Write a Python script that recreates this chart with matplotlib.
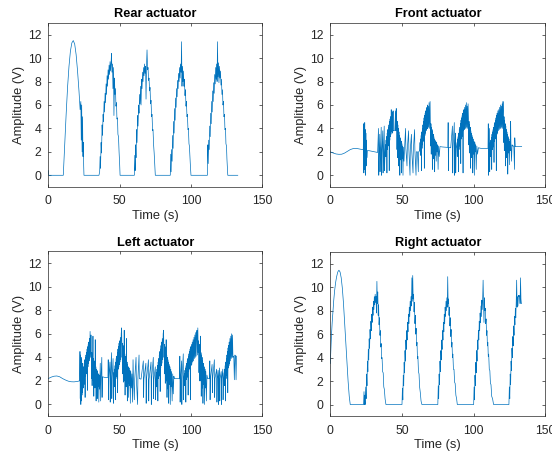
import numpy as np
import matplotlib
matplotlib.use("Agg")
import matplotlib.pyplot as plt

plt.rcParams['font.family'] = ['Liberation Sans', 'DejaVu Sans']

# actuator drive signals, (time s, amplitude V)
rear_samples = [
    (0, 0.4), (0.3, 0), (10.5, 0),
    (11.5, 2.6), (12.5, 5.2), (13.5, 7.5), (14.5, 9.3), (15.5, 10.6), (16.5, 11.3), (17.5, 11.5),
    (18.5, 11.2), (19.5, 10.3), (20.5, 8.9), (21.5, 7.2), (22.3, 5.6), (22.8, 6.3), (23.1, 3.0),
    (23.4, 6.0), (23.7, 2.0), (24.0, 5.0), (24.3, 1.6), (24.6, 2.8), (24.8, 0.8), (25.0, 0),
    (35.5, 0), (36.0, 0.3), (36.3, 1.6), (36.6, 0.6), (37.0, 2.8), (37.3, 1.9), (37.7, 4.3),
    (38.0, 3.4), (38.4, 5.2), (38.7, 4.6), (39.1, 6.3), (39.4, 5.4), (39.8, 7.0), (40.1, 6.2),
    (40.5, 7.8), (40.8, 6.9), (41.2, 8.5), (41.5, 7.6), (41.9, 9.0), (42.2, 8.2), (42.6, 9.4),
    (42.9, 8.6), (43.3, 9.7), (43.6, 8.9), (44.0, 9.6), (44.3, 10.4), (44.6, 8.8), (45.0, 9.5),
    (45.3, 7.4), (45.7, 9.2), (46.0, 5.1), (46.4, 8.3), (46.7, 6.9), (47.1, 7.4), (47.4, 5.9),
    (47.8, 6.2), (48.1, 4.8), (48.5, 4.9), (48.8, 3.5), (49.2, 3.3), (49.6, 2.0), (50.0, 1.0),
    (50.3, 0),
    (60.3, 0), (60.6, 1.7), (60.9, 0.4), (61.2, 2.6), (61.5, 1.5), (61.9, 3.9), (62.2, 2.8),
    (62.6, 5.1), (62.9, 4.2), (63.3, 6.0), (63.6, 5.3), (64.0, 6.9), (64.3, 6.1), (64.7, 7.6),
    (65.0, 6.0), (65.4, 8.2), (65.7, 7.4), (66.1, 8.8), (66.4, 8.0), (66.8, 9.2), (67.1, 8.5),
    (67.5, 9.5), (67.8, 8.7), (68.2, 9.3), (68.5, 6.5), (68.9, 9.6), (69.2, 10.7), (69.6, 9.0),
    (69.9, 9.2), (70.3, 8.1), (70.6, 8.3), (71.0, 7.2), (71.3, 7.5), (71.7, 6.1), (72.0, 6.4),
    (72.4, 5.0), (72.7, 5.2), (73.1, 3.8), (73.4, 3.9), (73.8, 2.6), (74.2, 1.9), (74.6, 0.9),
    (75.0, 0),
    (85.5, 0), (85.8, 1.8), (86.1, 0.3), (86.4, 2.2), (86.8, 1.2), (87.1, 3.4), (87.5, 2.3),
    (87.8, 4.6), (88.2, 3.6), (88.5, 5.7), (88.9, 4.7), (89.2, 6.6), (89.6, 5.8), (89.9, 7.4),
    (90.3, 6.7), (90.6, 8.1), (91.0, 7.4), (91.3, 8.7), (91.7, 8.0), (92.0, 9.2), (92.4, 8.3),
    (92.7, 9.5), (93.1, 8.8), (93.4, 11.4), (93.7, 7.6), (94.0, 9.3), (94.4, 8.0), (94.7, 8.9),
    (95.1, 7.6), (95.4, 8.2), (95.8, 6.8), (96.1, 7.3), (96.5, 5.9), (96.8, 6.3), (97.2, 5.0),
    (97.5, 5.2), (97.9, 3.9), (98.2, 4.0), (98.6, 2.7), (98.9, 2.5), (99.3, 1.5), (99.6, 0.8),
    (100.0, 0),
    (111.5, 0), (111.8, 2.6), (112.1, 1.0), (112.4, 3.0), (112.8, 2.2), (113.1, 4.2), (113.5, 3.3),
    (113.8, 5.3), (114.2, 4.4), (114.5, 6.3), (114.9, 5.4), (115.2, 7.2), (115.6, 6.3), (115.9, 7.9),
    (116.3, 7.0), (116.6, 8.6), (117.0, 7.8), (117.3, 9.2), (117.7, 8.2), (118.0, 9.5), (118.3, 8.0),
    (118.6, 11.4), (118.9, 8.4), (119.3, 9.6), (119.6, 7.9), (120.0, 9.3), (120.3, 8.3), (120.7, 8.9),
    (121.0, 7.7), (121.4, 8.2), (121.7, 6.9), (122.1, 7.3), (122.4, 6.0), (122.8, 6.3), (123.1, 5.0),
    (123.5, 5.2), (123.8, 3.9), (124.2, 4.0), (124.5, 2.7), (124.9, 2.5), (125.2, 1.4), (125.5, 0.7),
    (125.8, 0), (132.8, 0),
]

front_samples = [
    (0, 2.0), (2, 1.9), (4, 1.82), (6, 1.79), (8, 1.8), (10, 1.9), (12, 2.05), (14, 2.2),
    (16, 2.28), (18, 2.3), (20, 2.25), (22, 2.2), (23.0, 2.18),
    (23.2, 4.4), (23.4, 0.2), (23.6, 4.2), (23.8, 0.5), (24.0, 4.5), (24.2, 1.0), (24.4, 3.9),
    (24.6, 0), (24.8, 3.6), (25.0, 0.8), (25.2, 3.0), (25.5, 1.5), (25.8, 2.1),
    (27, 2.1), (29, 2.05), (31, 2.0), (33, 1.95),
    (33.6, 4.0), (33.8, 0), (34.1, 1.9), (34.5, 3.5), (34.7, 0.3), (35.0, 1.9), (35.5, 4.1),
    (35.7, 0), (36.0, 1.9), (36.6, 3.8), (36.8, 0.2), (37.1, 1.9), (37.6, 4.2), (37.8, 0.4),
    (38.2, 2.0),
    (38.5, 2.6), (38.7, 1.6), (38.9, 3.0), (39.1, 1.8), (39.3, 3.3), (39.5, 0.2), (39.7, 3.6),
    (39.9, 2.2), (40.1, 3.9), (40.3, 2.5), (40.5, 4.1), (40.7, 2.8), (40.9, 4.3), (41.1, 0.4),
    (41.3, 4.6), (41.5, 3.0), (41.7, 4.8), (41.9, 3.3), (42.1, 5.0), (42.3, 3.5), (42.5, 5.6),
    (42.7, 3.7), (42.9, 5.2), (43.1, 3.8), (43.3, 5.4), (43.5, 3.6), (43.8, 5.5), (44.0, 3.8),
    (44.3, 3.8), (45.0, 3.85), (45.5, 5.5), (45.7, 3.8), (46.0, 5.7),
    (46.3, 4.8), (46.5, 2.2), (46.7, 4.6), (46.9, 1.5), (47.1, 4.3), (47.3, 2.0), (47.5, 4.0),
    (47.7, 0.8), (47.9, 3.7), (48.1, 1.8), (48.3, 3.4), (48.5, 0), (48.7, 3.2), (48.9, 1.6),
    (49.1, 3.0), (49.3, 1.3), (49.5, 2.9), (49.7, 0.2), (49.9, 2.7), (50.1, 1.4), (50.4, 2.5),
    (50.7, 0), (51.0, 2.4), (51.4, 1.2), (51.8, 2.3),
    (52.5, 4.0), (52.7, 2.3), (53.5, 0.8), (53.7, 2.2), (54.6, 3.8), (54.8, 2.2), (55.6, 0),
    (55.8, 2.2), (56.6, 3.5), (56.8, 2.1), (57.7, 0.2), (57.9, 2.1), (58.8, 3.9), (59.0, 2.1),
    (59.8, 0), (60.0, 2.0), (60.8, 2.0), (61.4, 0.3), (61.6, 2.0), (62.3, 2.1),
    (62.6, 2.8), (62.8, 1.7), (63.0, 3.1), (63.2, 1.9), (63.4, 3.4), (63.6, 0.4), (63.8, 3.7),
    (64.0, 2.3), (64.2, 4.0), (64.4, 2.6), (64.6, 4.3), (64.8, 2.9), (65.0, 4.6), (65.2, 3.1),
    (65.4, 4.9), (65.6, 0.6), (65.8, 5.1), (66.0, 3.4), (66.2, 5.3), (66.4, 3.6), (66.6, 5.5),
    (66.8, 3.8), (67.0, 5.7), (67.2, 3.9), (67.4, 5.8), (67.6, 4.0), (67.8, 6.0), (68.0, 4.0),
    (68.3, 5.9), (68.6, 4.1), (68.9, 6.2), (69.2, 4.0), (69.6, 6.3),
    (69.8, 4.6), (70.0, 2.5), (70.2, 4.4), (70.4, 1.8), (70.6, 4.1), (70.8, 2.4), (71.0, 3.9),
    (71.2, 0.5), (71.4, 3.7), (71.6, 2.1), (71.8, 3.5), (72.0, 1.4), (72.2, 3.3), (72.4, 2.0),
    (72.6, 3.1), (72.8, 0.3), (73.0, 3.0), (73.3, 1.7), (73.6, 2.9), (73.9, 1.2), (74.2, 2.8),
    (74.5, 2.0), (74.8, 2.6), (75.2, 0.5), (75.5, 2.5), (76.0, 1.6), (76.5, 2.45),
    (78, 2.42), (80, 2.4), (82.0, 2.38), (82.2, 4.5), (82.4, 0.4), (82.6, 2.37), (84.0, 2.35),
    (85.2, 4.2), (85.4, 0.2), (85.6, 2.33), (86.5, 4.5), (86.7, 0), (86.9, 2.3), (87.3, 3.6),
    (87.5, 0.2), (87.8, 2.3),
    (88.4, 2.8), (88.6, 1.6), (88.8, 3.1), (89.0, 1.9), (89.2, 3.3), (89.4, 0.3), (89.6, 3.6),
    (89.8, 2.2), (90.0, 3.9), (90.2, 2.5), (90.4, 4.1), (90.6, 2.8), (90.8, 4.4), (91.0, 1.0),
    (91.2, 4.7), (91.4, 3.1), (91.6, 4.9), (91.8, 3.3), (92.0, 5.1), (92.2, 3.5), (92.4, 5.3),
    (92.6, 0.2), (92.8, 5.5), (93.0, 3.8), (93.2, 5.6), (93.4, 3.9), (93.7, 5.8), (94.0, 4.0),
    (94.3, 6.0), (94.6, 4.0), (94.9, 6.2), (95.2, 4.1), (95.5, 5.9), (95.8, 4.0), (96.1, 6.1),
    (96.4, 4.8), (96.6, 2.6), (96.8, 4.6), (97.0, 1.9), (97.2, 4.3), (97.4, 2.5), (97.6, 4.1),
    (97.8, 0.6), (98.0, 3.8), (98.2, 2.2), (98.4, 3.6), (98.6, 1.5), (98.8, 3.4), (99.0, 2.1),
    (99.2, 3.2), (99.4, 0.2), (99.6, 3.1), (99.9, 1.8), (100.2, 2.9), (100.5, 0), (100.8, 2.8),
    (101.1, 2.0), (101.4, 2.6), (101.8, 0.5), (102.2, 2.5), (102.7, 1.8), (103.3, 2.35),
    (105, 2.3), (107, 2.3), (109, 2.3), (110.0, 2.3), (110.2, 4.4), (110.4, 0), (110.6, 2.3),
    (111.0, 4.0), (111.2, 0.3), (111.4, 2.3),
    (111.6, 2.8), (111.8, 1.6), (112.0, 3.0), (112.2, 1.9), (112.4, 3.2), (112.6, 0.5), (112.8, 3.5),
    (113.0, 2.2), (113.2, 3.7), (113.4, 2.4), (113.6, 3.9), (113.8, 2.6), (114.0, 4.1), (114.2, 1.1),
    (114.4, 4.3), (114.6, 2.9), (114.8, 4.5), (115.0, 3.1), (115.2, 4.7), (115.4, 3.3), (115.6, 4.9),
    (115.8, 0.4), (116.0, 5.1), (116.2, 3.5), (116.4, 5.3), (116.6, 3.6), (116.9, 5.5), (117.2, 3.8),
    (117.5, 5.6), (117.8, 3.9), (118.1, 5.8), (118.4, 4.0), (118.7, 6.0), (119.0, 4.0), (119.3, 5.9),
    (119.6, 4.1), (119.9, 6.1), (120.2, 4.0), (120.5, 6.3),
    (120.8, 5.2), (121.0, 2.8), (121.2, 5.0), (121.4, 2.1), (121.6, 4.7), (121.8, 2.6), (122.0, 4.4),
    (122.2, 0.8), (122.4, 4.2), (122.6, 2.3), (122.8, 3.9), (123.0, 1.5), (123.2, 3.7), (123.4, 2.2),
    (123.6, 3.5), (123.8, 0.1), (124.0, 3.3), (124.3, 1.9), (124.6, 3.1), (124.9, 0.9), (125.2, 2.9),
    (125.5, 2.1), (125.8, 4.6), (126.0, 2.8), (126.4, 1.2), (126.8, 2.6), (127.2, 2.5), (128.0, 2.5),
    (128.5, 0.5), (128.7, 3.2), (129.0, 2.45), (131, 2.45), (133.5, 2.45),
]

left_samples = [
    (0, 2.2), (2, 2.32), (4, 2.4), (6, 2.42), (8, 2.35), (10, 2.2), (12, 2.08), (14, 1.98),
    (16, 1.93), (18, 1.92), (20, 1.95), (21.9, 2.0),
    (22.2, 4.5), (22.4, 0.5), (22.6, 4.2), (22.8, 0), (23.0, 4.0), (23.2, 0.3), (23.4, 3.8),
    (23.6, 0.8), (23.8, 3.5), (24.0, 1.0), (24.2, 3.0),
    (24.4, 2.8), (24.6, 1.4), (24.8, 3.2), (25.0, 1.7), (25.2, 3.5), (25.4, 2.0), (25.6, 3.8),
    (25.8, 0.6), (26.0, 4.0), (26.2, 2.4), (26.4, 4.2), (26.6, 2.6), (26.8, 4.4), (27.0, 2.9),
    (27.2, 4.7), (27.4, 1.2), (27.6, 4.9), (27.8, 3.2), (28.0, 5.1), (28.2, 3.5), (28.4, 5.3),
    (28.6, 3.7), (28.8, 5.6), (29.0, 3.9), (29.3, 6.2), (29.6, 4.0), (29.9, 5.9),
    (30.1, 4.6), (30.3, 2.2), (30.5, 4.4), (30.7, 1.6), (30.9, 4.2), (31.1, 2.3), (31.3, 5.8),
    (31.5, 2.0), (31.7, 3.9), (31.9, 0.7), (32.1, 3.7), (32.3, 2.2), (32.5, 3.5), (32.7, 1.4),
    (32.9, 5.5), (33.1, 2.0), (33.3, 3.2), (33.5, 0.3), (33.7, 3.0), (33.9, 1.8), (34.1, 2.9),
    (34.3, 0.5), (34.5, 2.8), (34.8, 1.5), (35.1, 2.6), (35.4, 0.2), (35.7, 2.5), (36.0, 1.3),
    (36.4, 3.5), (36.7, 0.3), (37.0, 2.4),
    (37.5, 4.0), (37.7, 0.6), (38.0, 2.35), (39.5, 2.3), (41.8, 2.3), (42.0, 3.8), (42.2, 0.4),
    (42.4, 2.3), (43.2, 3.6), (43.4, 0.2), (43.6, 2.25), (44.3, 4.4), (44.5, 0.5), (44.7, 2.2),
    (45.4, 3.9), (45.6, 0.1), (45.8, 2.2),
    (46.0, 2.7), (46.2, 1.5), (46.4, 3.0), (46.6, 1.8), (46.8, 3.3), (47.0, 0.4), (47.2, 3.6),
    (47.4, 2.2), (47.6, 3.9), (47.8, 2.4), (48.0, 4.1), (48.2, 2.7), (48.4, 4.4), (48.6, 1.0),
    (48.8, 4.7), (49.0, 3.0), (49.2, 4.9), (49.4, 3.2), (49.6, 5.2), (49.8, 3.4), (50.0, 5.4),
    (50.2, 3.6), (50.5, 5.7), (50.8, 3.8), (51.1, 6.0), (51.4, 6.5), (51.7, 4.0),
    (52.0, 5.2), (52.2, 2.6), (52.4, 5.0), (52.6, 1.9), (52.8, 4.7), (53.0, 2.4), (53.2, 6.3),
    (53.4, 2.0), (53.6, 4.3), (53.8, 0.8), (54.0, 4.1), (54.2, 2.2), (54.4, 3.9), (54.6, 1.5),
    (54.8, 5.6), (55.0, 2.0), (55.2, 3.6), (55.4, 0.3), (55.6, 3.4), (55.8, 1.8), (56.0, 3.2),
    (56.3, 0.6), (56.6, 3.1), (56.9, 1.6), (57.2, 2.9), (57.5, 0.1), (57.8, 2.8), (58.2, 1.4),
    (58.6, 2.6), (59.0, 0.2), (59.4, 3.8), (59.7, 2.1), (60.3, 0.4), (60.6, 2.2), (61.5, 4.0),
    (61.7, 2.2), (62.6, 0), (62.8, 2.2), (63.6, 4.2), (63.8, 2.2),
    (65, 2.15), (66.6, 3.7), (66.8, 0.6), (67.0, 2.15), (68.4, 3.5), (68.6, 0.1), (68.8, 2.1),
    (70.2, 3.8), (70.4, 0.3), (70.6, 2.1), (72.0, 3.6), (72.2, 0), (72.4, 2.1), (73.6, 4.0),
    (73.8, 0.5), (74.0, 2.1), (75.0, 3.2), (75.2, 0.4), (75.5, 2.1),
    (75.8, 2.7), (76.0, 1.5), (76.2, 3.0), (76.4, 1.8), (76.6, 3.3), (76.8, 0.3), (77.0, 3.6),
    (77.2, 2.2), (77.4, 3.9), (77.6, 2.4), (77.8, 4.2), (78.0, 2.7), (78.2, 4.5), (78.4, 1.1),
    (78.6, 4.7), (78.8, 3.1), (79.0, 5.0), (79.2, 3.3), (79.4, 5.3), (79.6, 3.5), (79.9, 5.6),
    (80.2, 3.8), (80.5, 6.0), (80.8, 6.3), (81.1, 4.0),
    (81.4, 5.1), (81.6, 2.6), (81.8, 4.9), (82.0, 1.8), (82.2, 4.6), (82.4, 2.4), (82.6, 5.5),
    (82.8, 2.0), (83.0, 4.2), (83.2, 0.6), (83.4, 4.0), (83.6, 2.2), (83.8, 3.8), (84.0, 1.3),
    (84.2, 3.6), (84.4, 0.1), (84.6, 3.4), (84.9, 1.7), (85.2, 3.2), (85.5, 0), (85.8, 3.0),
    (86.1, 1.5), (86.4, 2.8), (86.8, 0.3), (87.2, 2.6), (87.6, 0.9), (88.0, 2.4), (88.4, 2.2),
    (90, 2.2), (92.0, 2.2), (92.2, 4.1), (92.4, 0.2), (92.6, 2.2), (93.4, 3.7), (93.6, 0),
    (93.8, 2.2), (94.6, 4.3), (94.8, 0.4), (95.0, 2.2),
    (95.4, 2.6), (95.6, 1.6), (95.8, 2.9), (96.0, 1.8), (96.2, 3.1), (96.4, 0.2), (96.6, 3.3),
    (96.8, 2.1), (97.0, 3.5), (97.2, 2.3), (97.4, 3.7), (97.6, 2.5), (97.8, 3.9), (98.0, 0.8),
    (98.2, 4.1), (98.4, 2.8), (98.6, 4.3), (98.8, 3.0), (99.0, 4.5), (99.2, 3.1), (99.4, 4.7),
    (99.6, 0.4), (99.8, 4.9), (100.0, 3.3), (100.3, 5.1), (100.6, 3.4), (100.9, 5.3), (101.2, 3.6),
    (101.5, 5.5), (101.8, 3.7), (102.1, 5.7), (102.4, 3.9), (102.7, 5.9), (103.0, 4.0), (103.3, 6.1),
    (103.6, 4.1), (103.9, 6.0), (104.2, 6.3), (104.5, 4.2), (104.8, 6.5), (105.1, 4.4),
    (105.4, 5.4), (105.6, 2.7), (105.8, 5.1), (106.0, 2.0), (106.2, 4.8), (106.4, 2.5), (106.6, 5.8),
    (106.8, 2.0), (107.0, 4.4), (107.2, 0.7), (107.4, 4.2), (107.6, 2.2), (107.8, 4.0), (108.0, 1.4),
    (108.2, 3.7), (108.4, 0.1), (108.6, 3.5), (108.9, 1.7), (109.2, 3.2), (109.5, 0), (109.8, 3.0),
    (110.1, 1.4), (110.4, 2.8), (110.8, 0.3), (111.2, 2.5), (111.7, 2.2),
    (113.0, 2.2), (113.2, 3.7), (113.4, 0.4), (113.6, 2.2), (114.8, 3.4), (115.0, 1.0), (115.2, 2.2),
    (116.4, 3.8), (116.6, 0.6), (116.8, 2.2), (118.0, 3.0), (118.2, 0.2), (118.4, 2.2), (119.0, 2.9),
    (119.2, 0), (119.4, 2.2), (120.0, 3.1), (120.2, 0.3), (120.4, 2.2), (121.2, 2.8), (121.4, 0),
    (121.6, 2.2), (122.3, 3.0), (122.5, 0.4), (122.8, 2.2),
    (123.2, 2.7), (123.4, 1.6), (123.6, 3.0), (123.8, 1.9), (124.0, 3.3), (124.2, 0.3), (124.4, 3.6),
    (124.6, 2.2), (124.8, 3.9), (125.0, 2.5), (125.2, 4.2), (125.4, 2.7), (125.6, 4.5), (125.8, 1.0),
    (126.0, 4.8), (126.2, 3.1), (126.4, 5.0), (126.6, 3.3), (126.8, 5.3), (127.0, 3.5), (127.3, 5.6),
    (127.6, 3.7), (127.9, 5.8), (128.2, 3.9), (128.5, 6.0), (128.8, 4.0), (129.1, 5.9),
    (129.4, 4.0), (130.0, 4.1), (130.4, 2.1), (130.8, 4.2), (131.2, 4.1), (131.6, 2.1), (131.9, 4.1),
]

right_samples = [
    (0, 3.5), (0.4, 4.8), (0.8, 5.9), (1.3, 7.0), (1.8, 7.9), (2.4, 8.9), (3.0, 9.7), (3.7, 10.4),
    (4.4, 10.9), (5.2, 11.3), (6.0, 11.45), (6.8, 11.3), (7.6, 10.8), (8.4, 9.9), (9.2, 8.6),
    (10.0, 7.0), (10.8, 5.3), (11.6, 3.6), (12.4, 2.0), (13.2, 0.7), (13.9, 0),
    (23.2, 0), (23.5, 1.1), (23.7, 0), (24.0, 0.8), (24.2, 0), (24.4, 0),
    (24.7, 1.5), (25.0, 0.5), (25.3, 2.6), (25.6, 1.6), (25.9, 3.7), (26.2, 2.8), (26.5, 4.7),
    (26.8, 3.8), (27.1, 5.6), (27.4, 4.8), (27.7, 6.4), (28.0, 5.6), (28.3, 7.1), (28.6, 6.3),
    (28.9, 7.7), (29.2, 7.0), (29.5, 8.3), (29.8, 7.6), (30.1, 8.8), (30.4, 8.1), (30.7, 9.2),
    (31.0, 8.5), (31.3, 9.4), (31.6, 8.7), (31.9, 9.2), (32.2, 7.8), (32.5, 10.5), (32.8, 8.6),
    (33.1, 9.6), (33.4, 7.6), (33.7, 8.5), (34.0, 6.8), (34.3, 7.4), (34.6, 5.9), (34.9, 6.3),
    (35.2, 4.9), (35.5, 5.2), (35.8, 3.9), (36.1, 4.0), (36.5, 2.8), (36.9, 2.7), (37.3, 1.5),
    (37.7, 1.3), (38.2, 0.5), (38.8, 0),
    (50.0, 0), (50.3, 1.4), (50.6, 0.4), (50.9, 2.5), (51.2, 1.6), (51.5, 3.6), (51.8, 2.7),
    (52.1, 4.6), (52.4, 3.7), (52.7, 5.5), (53.0, 4.7), (53.3, 6.3), (53.6, 5.5), (53.9, 7.0),
    (54.2, 6.2), (54.5, 7.7), (54.8, 6.9), (55.1, 8.3), (55.4, 7.5), (55.7, 8.8), (56.0, 8.0),
    (56.3, 9.2), (56.6, 8.4), (56.9, 10.8), (57.2, 8.8), (57.5, 11.0), (57.8, 9.0), (58.1, 9.4),
    (58.4, 7.9), (58.7, 8.7), (59.0, 6.9), (59.3, 7.6), (59.6, 6.0), (59.9, 6.5), (60.2, 5.0),
    (60.5, 5.3), (60.8, 3.9), (61.1, 4.1), (61.5, 2.8), (61.9, 2.6), (62.3, 1.5), (62.8, 1.0),
    (63.3, 0.3), (63.9, 0),
    (75.0, 0), (75.3, 1.6), (75.6, 0.5), (75.9, 2.6), (76.2, 1.7), (76.5, 3.7), (76.8, 2.8),
    (77.1, 4.6), (77.4, 3.8), (77.7, 5.5), (78.0, 4.7), (78.3, 6.3), (78.6, 5.5), (78.9, 7.0),
    (79.2, 6.2), (79.5, 7.7), (79.8, 6.9), (80.1, 8.3), (80.4, 7.5), (80.7, 8.8), (81.0, 8.0),
    (81.3, 9.1), (81.6, 8.3), (81.9, 10.9), (82.2, 8.6), (82.5, 9.0), (82.8, 7.6), (83.1, 8.3),
    (83.4, 6.7), (83.7, 7.4), (84.0, 5.8), (84.3, 6.4), (84.6, 4.9), (84.9, 5.3), (85.2, 4.0),
    (85.5, 4.3), (85.9, 3.0), (86.3, 3.0), (86.7, 1.9), (87.1, 1.8), (87.6, 0.8), (88.1, 0.5),
    (88.6, 0),
    (100.0, 0), (100.3, 1.5), (100.6, 0.4), (100.9, 2.5), (101.2, 1.6), (101.5, 3.6), (101.8, 2.7),
    (102.1, 4.6), (102.4, 3.7), (102.7, 5.5), (103.0, 4.7), (103.3, 6.3), (103.6, 5.5), (103.9, 7.1),
    (104.2, 6.3), (104.5, 7.8), (104.8, 7.0), (105.1, 8.4), (105.4, 7.5), (105.7, 8.9), (106.0, 8.1),
    (106.3, 9.1), (106.6, 10.6), (106.9, 8.9), (107.2, 7.0), (107.5, 9.1), (107.8, 8.0), (108.1, 8.2),
    (108.4, 6.9), (108.7, 7.3), (109.0, 5.9), (109.3, 6.3), (109.6, 5.0), (109.9, 5.3), (110.2, 4.1),
    (110.5, 4.3), (110.9, 3.0), (111.3, 2.9), (111.7, 1.8), (112.1, 1.7), (112.6, 0.7), (113.2, 0.5),
    (113.9, 0),
    (124.6, 0), (124.9, 1.5), (125.2, 0.5), (125.5, 2.6), (125.8, 1.7), (126.1, 3.7), (126.4, 2.9),
    (126.7, 4.8), (127.0, 4.0), (127.3, 5.8), (127.6, 5.0), (127.9, 6.7), (128.2, 5.9), (128.5, 7.5),
    (128.8, 6.8), (129.1, 8.2), (129.4, 7.4), (129.7, 8.8), (130.0, 10.6), (130.3, 8.3), (130.6, 9.2),
    (130.9, 8.4), (131.2, 9.3), (131.5, 9.2), (131.8, 9.3), (132.1, 9.1), (132.4, 8.6), (132.7, 10.8),
    (133.0, 9.0), (133.3, 8.6),
]

panel_titles = ['Rear actuator', 'Front actuator', 'Left actuator', 'Right actuator']
x_ticks = [0, 50, 100, 150]
y_ticks = [0, 2, 4, 6, 8, 10, 12]

LINE_COLOR = '#0072BD'
AX_COLOR = '#262626'

fig = plt.figure(figsize=(5.52, 4.55), dpi=100)

# axes boxes in figure fractions: left, bottom, width, height
boxes = [
    (0.0875, 0.589, 0.3877, 0.3605),
    (0.5984, 0.589, 0.3895, 0.3605),
    (0.0875, 0.0851, 0.3877, 0.3626),
    (0.5984, 0.0851, 0.3895, 0.3610),
]

for box, title, samples in zip(boxes, panel_titles,
                               [rear_samples, front_samples, left_samples, right_samples]):
    ax = fig.add_axes(box)
    data = np.array(samples)
    ax.plot(data[:, 0], data[:, 1], color=LINE_COLOR, lw=0.5)

    ax.set_xlim(0, 150)
    ax.set_ylim(-1, 13)
    ax.set_xticks(x_ticks)
    ax.set_yticks(y_ticks)
    ax.tick_params(direction='in', length=2.5, width=0.5, top=True, right=True,
                   labelsize=8.8, colors=AX_COLOR)
    ax.tick_params(axis='x', pad=6)
    ax.tick_params(axis='y', pad=5)
    for sp in ax.spines.values():
        sp.set_color(AX_COLOR)
        sp.set_linewidth(0.5)

    ax.set_title(title, fontsize=9.2, fontweight='bold', pad=4)
    ax.set_xlabel('Time (s)', fontsize=9.3, color=AX_COLOR, labelpad=2)
    ax.set_ylabel('Amplitude (V)', fontsize=9.3, color=AX_COLOR, labelpad=2)

fig.savefig('out.png', dpi=100)
